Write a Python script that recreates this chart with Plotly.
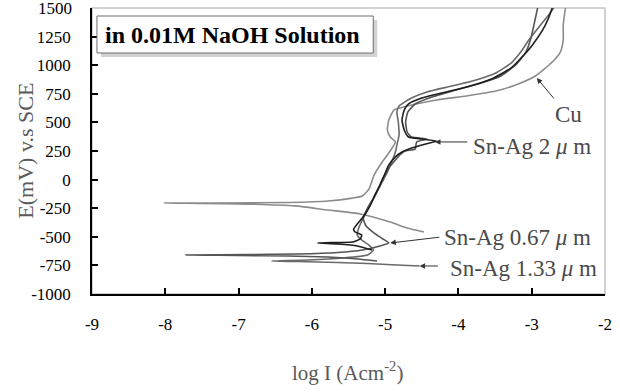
import plotly.graph_objects as go

# Potentiodynamic polarization curves in 0.01M NaOH (log I in A/cm^2, E in mV vs SCE)
cu_logi = [-4.47, -4.70, -4.93, -5.34, -5.78, -6.23, -6.86, -7.54, -8.01, -7.27, -6.32, -5.78,
           -5.45, -5.31, -5.22, -5.15, -5.04, -4.97, -4.86, -4.93, -4.97, -4.95, -4.88, -4.70,
           -4.30, -3.89, -3.49, -3.22, -2.95, -2.72, -2.61, -2.57, -2.57, -2.54]
cu_e = [-458, -423, -371, -300, -266, -230, -214, -208, -205, -204, -200, -187,
        -162, -143, -82, 40, 154, 215, 329, 372, 434, 521, 608, 643,
        696, 731, 774, 827, 906, 1028, 1115, 1220, 1351, 1500]

sn2_logi = [-5.18, -5.38, -5.65, -5.92, -5.65, -5.45, -5.34, -5.32, -5.41, -5.43, -5.38, -5.28,
            -5.20, -5.14, -5.07, -5.01, -4.95, -4.86, -4.77, -4.64, -4.50, -4.30, -4.50, -4.68,
            -4.74, -4.77, -4.74, -4.68, -4.50, -4.23, -3.89, -3.55, -3.28, -3.12, -2.99, -2.85,
            -2.77, -2.72]
sn2_e = [-615, -580, -563, -554, -550, -546, -519, -484, -458, -432, -388, -309,
         -222, -135, -47, 40, 128, 198, 241, 276, 302, 337, 355, 372,
         434, 521, 608, 661, 713, 757, 809, 879, 976, 1080, 1177, 1308,
         1413, 1500]

sn067_logi = [-5.11, -5.45, -5.78, -6.32, -7.00, -7.72, -6.86, -6.19, -5.65, -5.31, -5.07, -4.95,
              -5.03, -5.15, -5.26, -5.30, -5.24, -5.16, -5.09, -5.03, -4.95, -4.86, -4.80, -4.73,
              -4.59, -4.57, -4.43, -4.64, -4.70, -4.72, -4.69, -4.59, -4.36, -4.03, -3.69, -3.42,
              -3.22, -3.08, -3.01, -2.97, -2.92]
sn067_e = [-712, -690, -677, -668, -663, -659, -655, -650, -637, -615, -580, -554,
           -519, -467, -406, -336, -248, -161, -73, 14, 101, 171, 215, 250,
           267, 329, 355, 372, 416, 503, 591, 661, 722, 783, 844, 906,
           1002, 1115, 1238, 1351, 1500]

sn133_logi = [-4.53, -4.84, -5.24, -5.65, -6.19, -6.55, -6.05, -5.58, -5.24, -5.16, -5.22, -5.32,
              -5.38, -5.35, -5.27, -5.19, -5.11, -5.04, -4.97, -4.91, -4.86, -4.84, -4.81, -4.82,
              -4.84, -4.81, -4.64, -4.43, -4.09, -3.76, -3.49, -3.28, -3.15, -3.04, -2.88, -2.77,
              -2.70]
sn133_e = [-755, -747, -733, -725, -716, -712, -703, -685, -659, -615, -572, -528,
           -484, -406, -301, -205, -108, -21, 66, 154, 241, 302, 390, 503,
           591, 643, 713, 766, 818, 871, 932, 1019, 1115, 1220, 1351, 1439,
           1500]

x_ticks = [-9, -8, -7, -6, -5, -4, -3, -2]
y_ticks = [-1000, -750, -500, -250, 0, 250, 500, 750, 1000, 1250, 1500]
y_top = y_ticks[-1]

SERIF = "Liberation Serif"

W, H = 620, 392
ML, MR, MT, MB = 92, 10, 8, 98


def px(x):
    return (x - ML) / (W - ML - MR)


def py(y):
    return (H - MB - y) / (H - MT - MB)


fig = go.Figure()

series = [
    (cu_logi, cu_e, "#8c8c8c"),
    (sn133_logi, sn133_e, "#6a6a6a"),
    (sn067_logi, sn067_e, "#555555"),
    (sn2_logi, sn2_e, "#1e1e1e"),
]
for xs, ys, col in series:
    fig.add_trace(go.Scatter(x=xs, y=ys, mode="lines",
                             line=dict(color=col, width=1.6, shape="spline", smoothing=0.5),
                             showlegend=False, hoverinfo="skip", cliponaxis=True))

tick_font = dict(family=SERIF, size=17, color="black")
axis_common = dict(
    showgrid=False, zeroline=False, showline=True, linecolor="black", linewidth=1.5,
    ticks="inside", ticklen=6, tickwidth=1.5, tickcolor="black", tickfont=tick_font,
)
fig.update_xaxes(range=[-9, -2], tickvals=x_ticks, ticktext=[str(v) for v in x_ticks],
                 ticklabelstandoff=14, **axis_common)
# the top label sits on the figure edge, so it is written as an annotation below
fig.update_yaxes(range=[-1000, 1500.01], tickvals=y_ticks,
                 ticktext=[str(v) if v != y_top else "" for v in y_ticks],
                 ticklabelstandoff=16, **axis_common)

shapes = [
    # light frame on top/right
    dict(type="rect", xref="paper", yref="paper", x0=0, y0=0, x1=1, y1=1,
         line=dict(color="#c4c4c4", width=1.5), layer="below"),
    # title box shadow and box
    dict(type="rect", xref="paper", yref="paper", x0=px(101), x1=px(380), y0=py(20), y1=py(57),
         fillcolor="#d2d2d2", line=dict(width=0)),
    dict(type="rect", xref="paper", yref="paper", x0=px(97), x1=px(376), y0=py(16), y1=py(53),
         fillcolor="white", line=dict(color="#6e6e6e", width=1)),
]

annotations = [
    dict(text=str(y_top), xref="paper", yref="y", x=px(74), y=y_top, showarrow=False,
         xanchor="right", yanchor="middle", font=tick_font),
    dict(text="<b>in 0.01M NaOH Solution</b>", xref="paper", yref="paper",
         x=px(234), y=py(35), showarrow=False, xanchor="center", yanchor="middle",
         font=dict(family=SERIF, size=24, color="black")),
    dict(text="E(mV) v.s SCE", xref="paper", yref="paper", x=px(24), y=py(151),
         showarrow=False, textangle=-90, xanchor="center", yanchor="middle",
         font=dict(family=SERIF, size=22, color="#5a5a5a")),
    dict(text="log I (Acm<sup>-2</sup>)", xref="paper", yref="paper", x=px(350), y=py(371),
         showarrow=False, xanchor="center", yanchor="middle",
         font=dict(family=SERIF, size=21, color="#5a5a5a")),
]

label_font = dict(family=SERIF, size=23, color="#4a4a4a")
labels = [
    ("Cu", 557, 114),
    ("Sn-Ag 2 <i>μ</i> m", 475, 146),
    ("Sn-Ag 0.67 <i>μ</i> m", 445, 237),
    ("Sn-Ag 1.33 <i>μ</i> m", 451, 268),
]
for txt, lx, ly in labels:
    annotations.append(dict(text=txt, xref="paper", yref="paper", x=px(lx), y=py(ly),
                            showarrow=False, xanchor="left", yanchor="middle", font=label_font))

# leader arrows (tail -> head, in data coordinates)
arrows = [
    ((-2.68, 696), (-2.93, 888)),
    ((-3.86, 329), (-4.32, 329)),
    ((-4.24, -502), (-4.93, -554)),
    ((-4.26, -755), (-4.53, -755)),
]
for (tx, ty), (hx, hy) in arrows:
    annotations.append(dict(x=hx, y=hy, ax=tx, ay=ty, xref="x", yref="y", axref="x", ayref="y",
                            text="", showarrow=True, arrowhead=2, arrowsize=1.1,
                            arrowwidth=1, arrowcolor="#333333"))

fig.update_layout(
    width=W, height=H, margin=dict(l=ML, r=MR, t=MT, b=MB),
    paper_bgcolor="white", plot_bgcolor="white",
    shapes=shapes, annotations=annotations,
)

fig.write_html("out.html")
